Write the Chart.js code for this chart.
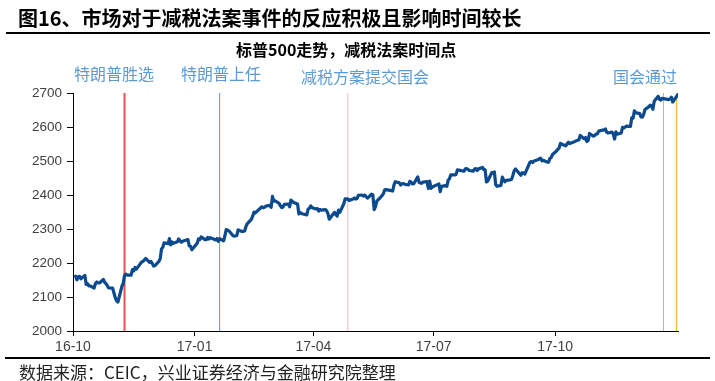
<!DOCTYPE html>
<html><head><meta charset="utf-8">
<script src="https://cdn.jsdelivr.net/npm/chart.js@4/dist/chart.umd.min.js"></script>
<style>
html,body{margin:0;padding:0;background:#fff;}
#wrap{position:relative;width:715px;height:381px;overflow:hidden;background:#fff;font-family:"Noto Sans CJK SC","Noto Sans",sans-serif;}
#c{position:absolute;left:0;top:0;}
.t{position:absolute;white-space:nowrap;line-height:1;}
.rule{position:absolute;background:#000;}
</style></head><body>
<div id="wrap">
<canvas id="c" width="715" height="381"></canvas>
<div class="t" style="left:18px;top:8px;font-size:20px;font-weight:bold;color:#000;">图16、市场对于减税法案事件的反应积极且影响时间较长</div>
<div class="rule" style="left:6px;top:32px;width:704px;height:2px;"></div>
<div class="t" style="left:236px;top:41px;font-size:16px;font-weight:bold;color:#000;">标普500走势，减税法案时间点</div>
<div class="t" style="left:74px;top:65px;font-size:16px;color:#5b9bd5;">特朗普胜选</div>
<div class="t" style="left:181px;top:65px;font-size:16px;color:#5b9bd5;">特朗普上任</div>
<div class="t" style="left:301px;top:68px;font-size:16px;color:#5b9bd5;">减税方案提交国会</div>
<div class="t" style="left:613px;top:68px;font-size:16px;color:#5b9bd5;">国会通过</div>
<div class="rule" style="left:5px;top:357px;width:705px;height:2px;"></div>
<div class="t" style="left:19px;top:363px;font-size:17px;color:#222;">数据来源：CEIC，兴业证券经济与金融研究院整理</div>
</div>
<script>
// ---- data ----
const months = ['2016-10','2016-11','2016-12','2017-01','2017-02','2017-03','2017-04','2017-05','2017-06','2017-07','2017-08','2017-09','2017-10','2017-11','2017-12','2018-01'];
const monthDays = [
 [3,4,5,6,7,10,11,12,13,14,17,18,19,20,21,24,25,26,27,28,31],
 [1,2,3,4,7,8,9,10,11,14,15,16,17,18,21,22,23,25,28,29,30],
 [1,2,5,6,7,8,9,12,13,14,15,16,19,20,21,22,23,27,28,29,30],
 [3,4,5,6,9,10,11,12,13,17,18,19,20,23,24,25,26,27,30,31],
 [1,2,3,6,7,8,9,10,13,14,15,16,17,21,22,23,24,27,28],
 [1,2,3,6,7,8,9,10,13,14,15,16,17,20,21,22,23,24,27,28,29,30,31],
 [3,4,5,6,7,10,11,12,13,17,18,19,20,21,24,25,26,27,28],
 [1,2,3,4,5,8,9,10,11,12,15,16,17,18,19,22,23,24,25,26,30,31],
 [1,2,5,6,7,8,9,12,13,14,15,16,19,20,21,22,23,26,27,28,29,30],
 [3,5,6,7,10,11,12,13,14,17,18,19,20,21,24,25,26,27,28,31],
 [1,2,3,4,7,8,9,10,11,14,15,16,17,18,21,22,23,24,25,28,29,30,31],
 [1,5,6,7,8,11,12,13,14,15,18,19,20,21,22,25,26,27,28,29],
 [2,3,4,5,6,9,10,11,12,13,16,17,18,19,20,23,24,25,26,27,30,31],
 [1,2,3,6,7,8,9,10,13,14,15,16,17,20,21,22,24,27,28,29,30],
 [1,4,5,6,7,8,11,12,13,14,15,18,19,20,21,22,26,27,28,29],
 [2]
];
const monthCloses = [
 [2161.20,2150.49,2159.73,2160.77,2153.74,2163.66,2136.73,2139.18,2132.55,2132.98,2126.50,2139.60,2144.29,2141.34,2141.16,2151.33,2143.16,2139.43,2133.04,2126.41,2126.15],
 [2111.72,2097.94,2088.66,2085.18,2131.52,2139.56,2163.26,2167.48,2164.45,2164.20,2180.39,2176.94,2187.12,2181.90,2198.18,2202.94,2204.72,2213.35,2201.72,2204.66,2198.81],
 [2191.08,2191.95,2204.71,2212.23,2241.35,2246.19,2259.53,2256.96,2271.72,2253.28,2262.03,2258.07,2262.53,2270.76,2265.18,2260.96,2263.79,2268.88,2249.92,2249.26,2238.83],
 [2257.83,2270.75,2269.00,2276.98,2268.90,2268.90,2275.32,2270.44,2274.64,2267.89,2271.89,2263.69,2271.31,2265.20,2280.07,2298.37,2296.68,2294.69,2280.90,2278.87],
 [2279.55,2280.85,2297.42,2292.56,2293.08,2294.67,2307.87,2316.10,2328.25,2337.58,2349.25,2347.22,2351.16,2365.38,2362.82,2363.81,2367.34,2369.75,2363.64],
 [2395.96,2381.92,2383.12,2375.31,2368.39,2362.98,2364.87,2372.60,2373.47,2365.45,2385.26,2381.38,2378.25,2373.47,2344.02,2348.45,2345.96,2343.98,2341.59,2358.57,2361.13,2368.06,2362.72],
 [2358.84,2360.16,2352.95,2357.49,2355.54,2357.16,2353.78,2344.93,2328.95,2349.01,2342.19,2338.17,2355.84,2348.69,2374.15,2388.61,2387.45,2388.77,2384.20],
 [2388.33,2391.17,2388.13,2389.52,2399.29,2399.38,2396.92,2399.63,2394.44,2390.90,2402.32,2400.67,2357.03,2365.72,2381.73,2394.02,2398.42,2404.39,2415.07,2415.82,2412.91,2411.80],
 [2430.06,2439.07,2436.10,2429.33,2433.14,2433.79,2431.77,2429.39,2440.35,2437.92,2432.46,2433.15,2453.46,2437.03,2435.61,2434.50,2438.30,2439.07,2419.38,2440.69,2419.70,2423.41],
 [2429.01,2432.54,2409.75,2425.18,2427.43,2425.53,2443.25,2447.83,2459.27,2459.14,2460.61,2473.83,2473.45,2472.54,2469.91,2477.13,2477.83,2475.42,2472.10,2470.30],
 [2476.35,2477.57,2472.16,2476.83,2480.91,2474.92,2474.02,2438.21,2441.32,2465.84,2464.61,2468.11,2430.01,2425.55,2428.37,2452.51,2444.04,2438.97,2443.05,2444.24,2446.30,2457.59,2471.65],
 [2476.55,2457.85,2465.54,2465.10,2461.43,2488.11,2496.48,2498.37,2495.62,2500.23,2503.87,2506.65,2508.24,2500.60,2502.22,2496.66,2496.84,2507.04,2510.06,2519.36],
 [2529.12,2534.58,2537.74,2552.07,2549.33,2544.73,2550.64,2555.24,2550.93,2553.17,2557.64,2559.36,2561.26,2562.10,2575.21,2564.98,2569.13,2557.15,2560.40,2581.07,2572.83,2575.26],
 [2579.36,2579.85,2587.84,2591.13,2590.64,2594.38,2584.62,2582.30,2584.84,2578.87,2564.62,2585.64,2578.85,2582.14,2599.03,2597.08,2602.42,2601.42,2627.04,2626.07,2647.58],
 [2642.22,2639.44,2629.57,2629.27,2636.98,2651.50,2659.99,2664.11,2662.85,2652.01,2675.81,2690.16,2681.47,2679.25,2684.57,2683.34,2680.50,2682.62,2687.54,2673.61],
 [2695.81]
];
const xTickDates = ['2016-10-01','2017-01-01','2017-04-01','2017-07-01','2017-10-01'];
const xTickLabels = ['16-10','17-01','17-04','17-07','17-10'];
const yTicks = [2000,2100,2200,2300,2400,2500,2600,2700];
const eventDates = ['2016-11-09','2017-01-20','2017-04-27','2017-12-22','2018-01-01'];
const xStart = '2016-10-01', xEnd = '2018-01-02';

// ---- helpers ----
const ORIGIN = Date.UTC(2016,9,1);
function dayOf(s){ const p = s.split('-').map(Number); return (Date.UTC(p[0],p[1]-1,p[2]) - ORIGIN)/86400000; }
const points = [];
months.forEach((m,i)=>{ monthDays[i].forEach((d,j)=>{ const v = monthCloses[i][j]; if (v!==undefined) points.push({x: dayOf(m+'-'+String(d).padStart(2,'0')), y: v}); }); });

const eventStyles = [
  {color:'#e8514f', width:2},
  {color:'#4f9ae6', width:1},
  {color:'#ffb3c0', width:1},
  {color:'#b5b5b5', width:1},
  {color:'#f2b600', width:1}
];
const datasets = [{
  data: points, borderColor:'#0b4a8e', borderWidth:3.2, pointRadius:0, tension:0,
  borderJoinStyle:'round', borderCapStyle:'round', order:0
}];
eventDates.forEach((d,i)=>{
  datasets.push({data:[{x:dayOf(d),y:yTicks[0]},{x:dayOf(d),y:yTicks[yTicks.length-1]}],
    borderColor:eventStyles[i].color, borderWidth:eventStyles[i].width, pointRadius:0, order:1+i});
});
const tickDays = xTickDates.map(dayOf);

new Chart(document.getElementById('c'), {
  type:'line',
  data:{datasets},
  options:{
    responsive:false, animation:false, devicePixelRatio:1,
    layout:{padding:{left:0,right:37,top:93,bottom:20}},
    plugins:{legend:{display:false}, tooltip:{enabled:false}},
    scales:{
      x:{type:'linear', min:dayOf(xStart), max:dayOf(xEnd),
        afterBuildTicks:(s)=>{ s.ticks = tickDays.map(v=>({value:v})); },
        afterFit:(s)=>{ s.height = 30; },
        ticks:{autoSkip:false, maxRotation:0, padding:3, color:'#404040',
          font:{family:'"Liberation Sans", Arial, sans-serif', size:14},
          callback:(v)=>{ const k = tickDays.indexOf(v); return k>=0 ? xTickLabels[k] : ''; }},
        grid:{display:true, drawOnChartArea:false, drawTicks:true, tickLength:5, color:'#000'},
        border:{display:true, color:'#000', width:1}
      },
      y:{type:'linear', min:yTicks[0], max:yTicks[yTicks.length-1],
        afterBuildTicks:(s)=>{ s.ticks = yTicks.map(v=>({value:v})); },
        afterFit:(s)=>{ s.width = 73; },
        ticks:{padding:5, color:'#404040', font:{family:'"Liberation Sans", Arial, sans-serif', size:13.5},
          callback:(v)=>String(v)},
        grid:{display:true, drawOnChartArea:false, drawTicks:true, tickLength:6, color:'#000'},
        border:{display:true, color:'#000', width:1}
      }
    }
  }
});
</script>
</body></html>
